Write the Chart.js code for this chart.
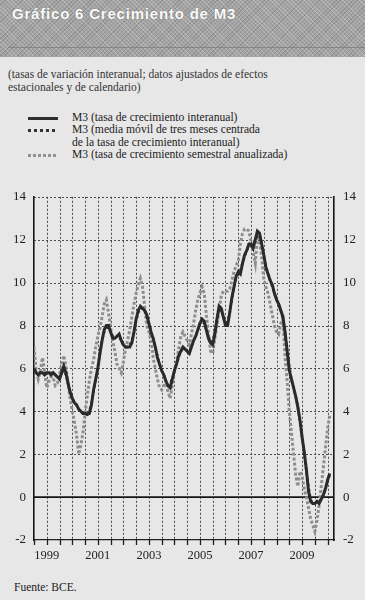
<!DOCTYPE html>
<html lang="es">

<head>
    <meta charset="UTF-8">
    <title>Gráfico 6 Crecimiento de M3</title>
    <script src="https://cdn.jsdelivr.net/npm/chart.js"></script>
    <style>
        html, body {
            margin: 0;
            padding: 0;
        }

        body {
            width: 365px;
            height: 600px;
            position: relative;
            overflow: hidden;
            background: #e7e7e7;
            font-family: "Liberation Serif", "DejaVu Serif", serif;
            color: #2a2a2a;
        }

        .banda-titulo {
            position: absolute;
            left: 0;
            top: 0;
            width: 365px;
            height: 57px;
            background-color: #a4a4a4;
            background-image:
                repeating-linear-gradient(45deg, rgba(255,255,255,0.2) 0 1px, transparent 1px 3px),
                repeating-linear-gradient(-45deg, rgba(0,0,0,0.12) 0 1px, transparent 1px 3px);
        }

        .banda-titulo h1 {
            position: absolute;
            left: 12px;
            top: 5px;
            margin: 0;
            font-family: "Liberation Sans", Arial, sans-serif;
            font-weight: bold;
            font-size: 15px;
            letter-spacing: 0.8px;
            color: #fbfbfb;
            text-shadow: 0 0 1px #666;
            white-space: nowrap;
        }

        .banda-titulo .linea {
            position: absolute;
            left: 8px;
            right: 0;
            top: 47px;
            height: 1px;
            background: #858585;
        }

        .subtitulo {
            position: absolute;
            left: 8px;
            top: 68px;
            font-size: 11.5px;
            line-height: 12.5px;
            color: #333;
        }

        .leyenda {
            position: absolute;
            left: 0;
            top: 112px;
            font-size: 11.6px;
            line-height: 12.4px;
            color: #222;
        }

        .item {
            position: relative;
            padding-left: 72px;
        }

        .muestra {
            position: absolute;
            left: 28px;
            top: 5px;
            width: 30px;
            height: 3px;
        }

        .m-solida { background: #2e2e2e; }
        .m-puntos { background: repeating-linear-gradient(90deg, #333 0 3px, transparent 3px 6px); }
        .m-gris { background: repeating-linear-gradient(90deg, #929292 0 3px, transparent 3px 5px); }

        #grafico {
            position: absolute;
            left: 0;
            top: 180px;
        }

        .fuente {
            position: absolute;
            left: 14px;
            top: 581px;
            font-size: 11.5px;
            color: #222;
        }
    </style>
</head>

<body>
    <div class="banda-titulo">
        <h1>Gráfico 6 Crecimiento de M3</h1>
        <div class="linea"></div>
    </div>

    <div class="subtitulo">
        (tasas de variación interanual; datos ajustados de efectos<br>
        estacionales y de calendario)
    </div>

    <div class="leyenda">
        <div class="item"><span class="muestra m-solida"></span>M3 (tasa de crecimiento interanual)</div>
        <div class="item"><span class="muestra m-puntos"></span>M3 (media móvil de tres meses centrada<br>de la tasa de crecimiento interanual)</div>
        <div class="item"><span class="muestra m-gris"></span>M3 (tasa de crecimiento semestral anualizada)</div>
    </div>

    <canvas id="grafico" width="365" height="385"></canvas>

    <div class="fuente">Fuente: BCE.</div>
</body>

<script>
    // meses desde enero 1999 (0) hasta agosto 2010 (139)
    const tasaInteranual = [
        6.0, 5.8, 5.7, 5.8, 5.8, 5.7, 5.8, 5.8, 5.7, 5.8, 5.7, 5.6,
        5.5, 5.8, 6.1, 5.8, 5.3, 4.9, 4.6, 4.4, 4.3, 4.1, 4.0, 3.9,
        3.9, 3.85, 3.9, 4.3, 5.0, 5.5, 6.0, 6.7, 7.3, 7.8, 8.0, 8.0,
        7.7, 7.4, 7.4, 7.5, 7.6, 7.3, 7.1, 7.0, 7.0, 7.0, 7.2, 7.7,
        8.3, 8.7, 8.9, 8.8, 8.7, 8.5, 8.1, 7.7, 7.4, 7.0, 6.5, 6.2,
        5.9, 5.7, 5.4, 5.2, 5.1, 5.5, 5.9, 6.2, 6.6, 6.8, 7.0, 6.9,
        6.8, 6.7, 7.0, 7.3, 7.5, 7.8, 8.1, 8.3, 8.2, 7.8, 7.4, 7.2,
        7.1, 7.6, 8.3, 8.9, 8.8, 8.4, 8.0, 8.0, 8.6, 9.3, 9.8, 10.3,
        10.5, 10.4, 10.9, 11.3, 11.5, 11.8, 11.8, 11.6, 12.0, 12.4, 12.3, 11.8,
        11.3, 10.7, 10.4, 10.1, 9.9, 9.5, 9.2, 9.0, 8.7, 8.4, 7.7, 6.8,
        5.9, 5.5, 5.1, 4.7, 4.2, 3.6, 2.8, 2.1, 1.3, 0.3, -0.2, -0.3,
        -0.3, -0.2, -0.3, -0.1, 0.1, 0.4, 0.8, 1.1
    ]

    const mediaMovil = [
        5.9, 5.8, 5.8, 5.8, 5.8, 5.8, 5.8, 5.8, 5.8, 5.7, 5.7, 5.6,
        5.6, 5.8, 5.9, 5.7, 5.3, 4.9, 4.6, 4.4, 4.3, 4.1, 4.0, 3.9,
        3.9, 3.9, 4.0, 4.4, 4.9, 5.5, 6.1, 6.7, 7.3, 7.7, 7.9, 7.9,
        7.7, 7.5, 7.4, 7.5, 7.5, 7.3, 7.1, 7.0, 7.0, 7.1, 7.3, 7.7,
        8.2, 8.6, 8.8, 8.8, 8.7, 8.4, 8.1, 7.7, 7.4, 7.0, 6.6, 6.2,
        5.9, 5.7, 5.4, 5.2, 5.3, 5.5, 5.9, 6.2, 6.5, 6.8, 6.9, 6.9,
        6.8, 6.8, 7.0, 7.3, 7.5, 7.8, 8.1, 8.2, 8.1, 7.8, 7.5, 7.2,
        7.3, 7.7, 8.3, 8.7, 8.7, 8.4, 8.1, 8.2, 8.6, 9.2, 9.8, 10.2,
        10.4, 10.6, 10.9, 11.2, 11.5, 11.7, 11.7, 11.8, 12.0, 12.2, 12.2, 11.8,
        11.3, 10.8, 10.4, 10.1, 9.8, 9.5, 9.2, 9.0, 8.7, 8.3, 7.6, 6.8,
        6.1, 5.5, 5.1, 4.7, 4.2, 3.5, 2.8, 2.1, 1.2, 0.5, -0.1, -0.3,
        -0.3, -0.2, -0.2, -0.1, 0.1, 0.4, 0.8, 1.0
    ]

    const tasaSemestral = [
        7.0, 5.9, 5.5, 5.9, 6.5, 5.8, 5.1, 5.4, 5.6, 5.6, 5.2, 5.3,
        5.7, 6.2, 6.6, 6.1, 5.3, 4.6, 4.0, 3.5, 2.9, 2.0, 2.4, 3.0,
        3.9, 4.7, 5.4, 6.0, 6.4, 7.0, 7.5, 7.9, 8.4, 9.0, 9.2, 8.6,
        7.9, 7.3, 6.8, 6.2, 6.0, 5.8, 6.3, 6.9, 7.3, 7.8, 8.4, 9.0,
        9.5, 9.9, 10.2, 9.8, 8.9, 8.0, 7.7, 7.3, 6.5, 6.0, 5.5, 5.1,
        5.0, 5.2, 5.3, 4.9, 4.6, 5.2, 5.9, 6.3, 6.9, 7.5, 7.7, 7.5,
        7.3, 7.1, 7.6, 8.1, 8.7, 9.2, 9.5, 9.8, 9.5, 8.5, 7.6, 6.8,
        6.7, 7.4, 8.0, 8.7, 9.4, 9.6, 9.6, 9.6, 9.7, 10.1, 10.5, 10.8,
        11.0, 11.8, 12.3, 12.5, 12.5, 12.4, 11.9, 11.4, 10.9, 12.2, 11.9, 11.2,
        10.2, 9.8, 9.5, 9.0, 8.5, 8.0, 7.7, 7.6, 8.1, 8.3, 6.5, 5.4,
        4.0, 3.0, 2.0, 1.0, 0.5, 1.2, 1.0, 0.4, 0.0, -0.5, -1.0, -1.3,
        -1.6, -1.1, -0.4, 0.5, 1.4, 2.3, 3.2, 3.8
    ]

    const etiquetasAnios = ['1999', '2001', '2003', '2005', '2007', '2009']
    const ticksY = [-2, 0, 2, 4, 6, 8, 10, 12, 14]

    function puntos(serie) {
        return serie.map((v, i) => ({ x: i, y: v }))
    }

    // rejilla punteada, marcas del eje x y linea del cero, con las escalas del grafico
    const rejilla = {
        id: 'rejilla',
        beforeDatasetsDraw(chart) {
            const { ctx, chartArea, scales } = chart
            ctx.save()
            ctx.strokeStyle = '#4a4a4a'
            ctx.lineWidth = 1
            ctx.setLineDash([2, 2])
            scales.x.ticks.forEach(t => {
                if (t.value === 0) return
                const x = Math.round(scales.x.getPixelForValue(t.value)) + 0.5
                ctx.beginPath()
                ctx.moveTo(x, chartArea.top)
                ctx.lineTo(x, chartArea.bottom)
                ctx.stroke()
            })
            scales.y.ticks.forEach(t => {
                if (t.value === 0 || t.value === -2) return
                const y = Math.round(scales.y.getPixelForValue(t.value)) + 0.5
                ctx.beginPath()
                ctx.moveTo(chartArea.left, y)
                ctx.lineTo(chartArea.right, y)
                ctx.stroke()
            })
            ctx.setLineDash([])
            ctx.strokeStyle = '#1e1e1e'
            ctx.lineWidth = 1.3
            scales.x.ticks.forEach(t => {
                const x = Math.round(scales.x.getPixelForValue(t.value)) + 0.5
                ctx.beginPath()
                ctx.moveTo(x, chartArea.bottom)
                ctx.lineTo(x, chartArea.bottom + 5)
                ctx.stroke()
            })
            const y0 = scales.y.getPixelForValue(0)
            ctx.strokeStyle = '#161616'
            ctx.lineWidth = 1.6
            ctx.beginPath()
            ctx.moveTo(chartArea.left, y0)
            ctx.lineTo(chartArea.right, y0)
            ctx.stroke()
            ctx.restore()
        }
    }

    const fuenteEjes = { family: '"Liberation Serif", "DejaVu Serif", serif', size: 13 }

    var grafico = new Chart(document.getElementById('grafico').getContext('2d'), {
        type: 'line',
        data: {
            datasets: [{
                label: 'M3 (tasa de crecimiento semestral anualizada)',
                data: puntos(tasaSemestral),
                borderColor: '#8e8e8e',
                borderWidth: 3,
                borderDash: [3, 2],
                pointRadius: 0,
                tension: 0,
                order: 3
            },
            {
                label: 'M3 (media móvil de tres meses centrada de la tasa de crecimiento interanual)',
                data: puntos(mediaMovil),
                borderColor: '#3c3c3c',
                borderWidth: 2.5,
                borderDash: [2.5, 3],
                pointRadius: 0,
                tension: 0,
                order: 2
            },
            {
                label: 'M3 (tasa de crecimiento interanual)',
                data: puntos(tasaInteranual),
                borderColor: '#2a2a2a',
                borderWidth: 3,
                pointRadius: 0,
                tension: 0,
                order: 1
            }
            ]
        },
        options: {
            responsive: false,
            animation: false,
            devicePixelRatio: 1,
            layout: { padding: { top: 9, left: 0, right: 0, bottom: 0 } },
            plugins: {
                legend: { display: false },
                tooltip: { enabled: false }
            },
            scales: {
                x: {
                    type: 'linear',
                    min: 0,
                    max: 141,
                    afterFit: (s) => { s.height = 25 },
                    afterBuildTicks: (s) => {
                        const t = []
                        for (let m = 0; m <= 138; m += 6) t.push({ value: m })
                        s.ticks = t
                    },
                    ticks: {
                        autoSkip: false,
                        maxRotation: 0,
                        padding: 3,
                        color: '#222',
                        font: { family: fuenteEjes.family, size: 12.5 },
                        callback: (v) => ((v - 6) % 24 === 0 ? etiquetasAnios[(v - 6) / 24] : '')
                    },
                    grid: { display: false, tickLength: 5 },
                    border: { display: true, color: '#222', width: 1.3 }
                },
                y: {
                    position: 'left',
                    min: -2,
                    max: 14,
                    afterFit: (s) => { s.width = 34 },
                    afterBuildTicks: (s) => { s.ticks = ticksY.map(v => ({ value: v })) },
                    ticks: { padding: 8, color: '#222', font: fuenteEjes },
                    grid: { drawOnChartArea: false, drawTicks: false },
                    border: { display: true, color: '#151515', width: 1.6 }
                },
                y2: {
                    position: 'right',
                    min: -2,
                    max: 14,
                    afterFit: (s) => { s.width = 31 },
                    afterBuildTicks: (s) => { s.ticks = ticksY.map(v => ({ value: v })) },
                    ticks: { padding: 9, color: '#222', font: fuenteEjes },
                    grid: { drawOnChartArea: false, drawTicks: false },
                    border: { display: true, color: '#151515', width: 1.6 }
                }
            }
        },
        plugins: [rejilla]
    })
</script>

</html>
